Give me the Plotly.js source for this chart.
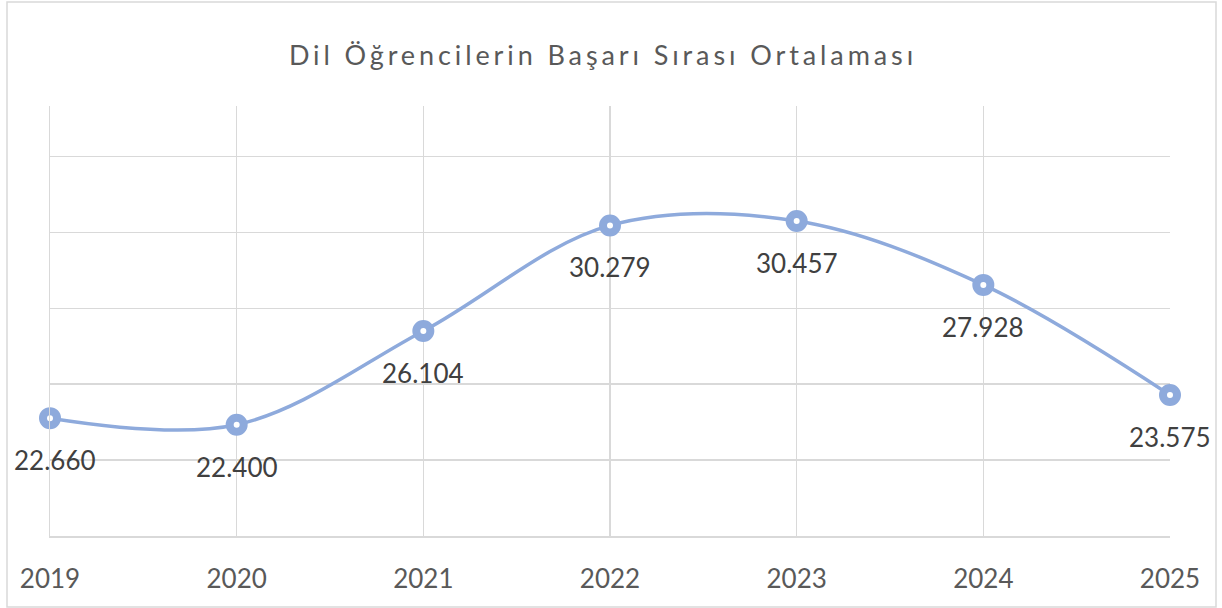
<!DOCTYPE html>
<html>
<head>
<meta charset="utf-8">
<script src="https://cdn.plot.ly/plotly-3.0.1.min.js"></script>
<style>
html,body{margin:0;padding:0;background:#fff;}
#chart{width:1222px;height:608px;}
#chart .gtitle{letter-spacing:3.9px;}
</style>
</head>
<body>
<div id="chart"></div>
<script>
const years = ["2019", "2020", "2021", "2022", "2023", "2024", "2025"];
const ranks = [22660, 22400, 26104, 30279, 30457, 27928, 23575];
const chartTitle = "Dil Öğrencilerin Başarı Sırası Ortalaması";

function fmt(v) {
  return String(v).replace(/\B(?=(\d{3})+(?!\d))/g, ".");
}

const W = 1222, H = 608;
const mL = 50, mR = 52, mT = 106, mB = 72;
const pw = W - mL - mR, ph = H - mT - mB;
function px2paperX(p) { return (p - mL) / pw; }
function px2paperY(p) { return (H - mB - p) / ph; }

const FONT = "Lato, 'Open Sans', sans-serif";

const trace = {
  x: years,
  y: ranks,
  type: "scatter",
  mode: "lines+markers",
  line: { color: "#8eaadc", width: 3.5, shape: "spline", smoothing: 1 },
  marker: { symbol: "circle", size: 14, color: "#ffffff", line: { color: "#8eaadc", width: 8 } },
  cliponaxis: false,
  hoverinfo: "skip"
};

const annotations = years.map((y, i) => ({
  x: i,
  y: ranks[i],
  xref: "x",
  yref: "y",
  text: fmt(ranks[i]),
  showarrow: false,
  yshift: -42,
  xshift: i === 0 ? 5 : 0,
  font: { family: FONT, size: 26, color: "#404040" }
}));

const layout = {
  width: W,
  height: H,
  margin: { l: mL, r: mR, t: mT, b: mB, pad: 0 },
  paper_bgcolor: "#ffffff",
  plot_bgcolor: "#ffffff",
  showlegend: false,
  title: {
    text: chartTitle,
    x: 603 / W,
    xref: "container",
    xanchor: "center",
    y: 1 - 56 / H,
    yref: "container",
    yanchor: "middle",
    font: { family: FONT, size: 27, color: "#595959" }
  },
  xaxis: {
    type: "category",
    range: [0, 6],
    showgrid: true,
    gridcolor: "#d9d9d9",
    gridwidth: 1.5,
    showline: true,
    linecolor: "#d9d9d9",
    linewidth: 1.5,
    zeroline: false,
    ticks: "outside",
    ticklen: 19,
    tickcolor: "rgba(0,0,0,0)",
    tickfont: { family: FONT, size: 26, color: "#595959" },
    fixedrange: true
  },
  yaxis: {
    range: [18000, 35000],
    tick0: 18000,
    dtick: 3000,
    tickmode: "linear",
    showgrid: true,
    gridcolor: "#d9d9d9",
    gridwidth: 1.5,
    showline: true,
    linecolor: "#d9d9d9",
    linewidth: 1.5,
    zeroline: false,
    showticklabels: false,
    ticks: "",
    fixedrange: true
  },
  annotations: annotations,
  shapes: [{
    type: "rect",
    xref: "paper",
    yref: "paper",
    x0: px2paperX(7),
    x1: px2paperX(1216),
    y0: px2paperY(607),
    y1: px2paperY(2),
    line: { color: "#d9d9d9", width: 1.5 },
    fillcolor: "rgba(0,0,0,0)",
    layer: "below"
  }]
};

Plotly.newPlot("chart", [trace], layout, { displayModeBar: false, staticPlot: true });
</script>
</body>
</html>
